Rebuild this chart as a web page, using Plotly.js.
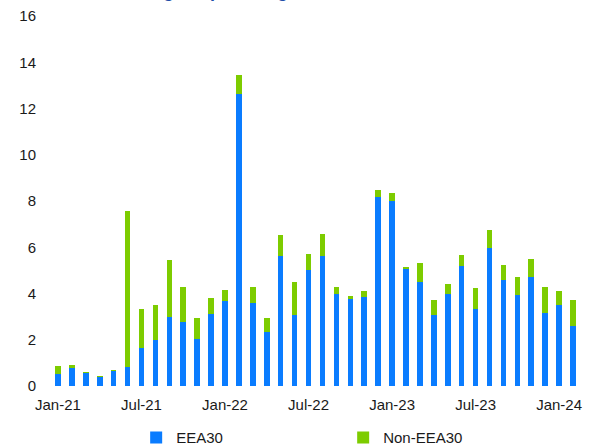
<!DOCTYPE html>
<html>
<head>
<meta charset="utf-8">
<script src="https://cdn.plot.ly/plotly-3.0.1.min.js"></script>
<style>
  html, body { margin: 0; padding: 0; background: #ffffff; }
  #chart { width: 595px; height: 448px; }
</style>
</head>
<body>
<div id="chart"></div>
<script>
const months = [
  "Jan-21","Feb-21","Mar-21","Apr-21","May-21","Jun-21","Jul-21","Aug-21","Sep-21","Oct-21","Nov-21","Dec-21",
  "Jan-22","Feb-22","Mar-22","Apr-22","May-22","Jun-22","Jul-22","Aug-22","Sep-22","Oct-22","Nov-22","Dec-22",
  "Jan-23","Feb-23","Mar-23","Apr-23","May-23","Jun-23","Jul-23","Aug-23","Sep-23","Oct-23","Nov-23","Dec-23",
  "Jan-24","Feb-24"
];
const eea30 = [
  0.52, 0.78, 0.58, 0.40, 0.63, 0.81, 1.66, 1.99, 3.00, 2.78, 2.02, 3.13,
  3.68, 12.61, 3.60, 2.34, 5.64, 3.07, 5.03, 5.64, 3.99, 3.78, 3.86, 8.19,
  8.01, 5.06, 4.51, 3.05, 3.99, 5.20, 3.34, 5.98, 4.58, 3.94, 4.71, 3.17,
  3.52, 2.61
];
const nonEea30 = [
  0.35, 0.13, 0.02, 0.03, 0.05, 6.74, 1.65, 1.53, 2.45, 1.50, 0.93, 0.67,
  0.49, 0.82, 0.70, 0.61, 0.89, 1.43, 0.69, 0.95, 0.31, 0.13, 0.26, 0.29,
  0.34, 0.10, 0.81, 0.68, 0.42, 0.45, 0.91, 0.77, 0.67, 0.77, 0.80, 1.11,
  0.59, 1.10
];
const tickLabels = ["Jan-21","Jul-21","Jan-22","Jul-22","Jan-23","Jul-23","Jan-24"];
const yTicks = [0, 2, 4, 6, 8, 10, 12, 14, 16];
const titleText = "Funding is up for large firms";

const FONT = "Liberation Sans, Arial, sans-serif";
const traces = [
  { type: "bar", name: "EEA30", x: months, y: eea30,
    marker: { color: "#0a7cff", line: { width: 0 } } },
  { type: "bar", name: "Non-EEA30", x: months, y: nonEea30,
    marker: { color: "#7dcc00", line: { width: 0 } } }
];
const layout = {
  width: 595, height: 448,
  margin: { l: 50.5, r: 14.5, t: 16, b: 62, autoexpand: false },
  paper_bgcolor: "#ffffff", plot_bgcolor: "#ffffff",
  barmode: "stack", bargap: 0.6,
  showlegend: true,
  font: { family: FONT, size: 15, color: "#1a1a1a" },
  xaxis: {
    type: "category", categoryorder: "array", categoryarray: months,
    tickmode: "array", tickvals: tickLabels, ticktext: tickLabels,
    showgrid: false, showline: false, zeroline: false, ticks: "",
    tickangle: 0, ticklabelstandoff: 8,
    tickfont: { family: FONT, size: 15, color: "#1a1a1a" }
  },
  yaxis: {
    range: [0, 16], tickmode: "array", tickvals: yTicks,
    showgrid: false, showline: false, zeroline: false, ticks: "",
    ticklabelstandoff: 14,
    tickfont: { family: FONT, size: 15, color: "#1a1a1a" }
  },
  legend: {
    orientation: "h", traceorder: "normal", xref: "paper", yref: "paper",
    x: 0.161, xanchor: "left", y: -0.14, yanchor: "middle",
    entrywidth: 162, entrywidthmode: "pixels",
    font: { family: FONT, size: 15, color: "#1a1a1a" },
    bgcolor: "rgba(0,0,0,0)"
  },
  annotations: [{
    text: titleText, xref: "paper", yref: "paper",
    x: 0.095, y: 1.0, xanchor: "left", yanchor: "bottom", yshift: 13,
    showarrow: false,
    font: { family: FONT, size: 18, color: "#1f4fa8", weight: "bold" }
  }]
};
Plotly.newPlot("chart", traces, layout, { displayModeBar: false, staticPlot: true });
</script>
</body>
</html>
